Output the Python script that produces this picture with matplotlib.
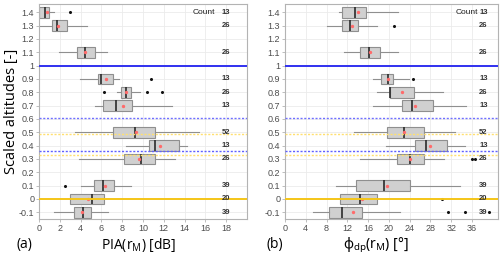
import numpy as np
import matplotlib
matplotlib.use("Agg")
import matplotlib.pyplot as plt

plt.rcParams["font.family"] = ["Liberation Sans", "DejaVu Sans"]
plt.rcParams["mathtext.fontset"] = "custom"
plt.rcParams["mathtext.rm"] = "Noto Sans"
plt.rcParams["mathtext.it"] = "Noto Sans"
plt.rcParams["mathtext.default"] = "regular"

# Scaled altitude rows and sample counts
altitudes = [1.4, 1.3, 1.1, 0.9, 0.8, 0.7, 0.5, 0.4, 0.3, 0.1, 0.0, -0.1]
counts = [13, 26, 26, 13, 26, 13, 52, 13, 26, 39, 20, 39]

# Panel (a): PIA(rM) [dB]
pia_whislo = [0.0, 0.0, 1.9, 3.9, 7.5, 5.4, 3.5, 8.35, 3.8, 4.05, 3.0, 1.48]
pia_q1 = [0.0, 1.28, 3.63, 5.65, 7.9, 6.2, 7.15, 10.55, 8.2, 5.3, 3.0, 3.4]
pia_med = [0.58, 1.7, 4.43, 6.0, 8.35, 7.4, 9.25, 11.2, 9.8, 6.2, 5.05, 4.27]
pia_q3 = [1.0, 2.73, 5.42, 7.15, 8.8, 8.95, 11.2, 13.45, 11.15, 7.25, 6.25, 5.0]
pia_whishi = [1.48, 4.6, 6.5, 7.7, 9.7, 12.8, 15.4, 14.2, 13.1, 8.8, 6.25, 6.67]
pia_mean = [0.74, 1.8, 4.43, 6.45, 8.4, 8.05, 9.3, 11.65, 9.6, 6.35, 4.75, 4.1]
pia_fliers = [[3.0], [], [], [10.8], [6.25, 10.4, 11.8], [], [], [], [], [2.5], [], []]

# Panel (b): phi_dp(rM) [deg]
phi_whislo = [10.3, 8.0, 11.3, 17.0, 17.8, 17.0, 13.3, 19.4, 14.4, 9.9, 10.6, 5.4]
phi_q1 = [11.0, 11.0, 14.4, 18.5, 20.2, 22.6, 19.6, 25.1, 21.5, 13.7, 10.6, 8.5]
phi_med = [13.5, 12.6, 16.2, 19.8, 20.3, 24.4, 22.9, 27.1, 24.1, 19.0, 14.4, 11.0]
phi_q3 = [15.5, 14.0, 18.3, 20.7, 24.9, 28.4, 26.7, 31.1, 26.8, 24.1, 17.8, 14.9]
phi_whishi = [21.7, 17.7, 21.7, 23.9, 30.4, 34.8, 32.7, 34.6, 30.6, 33.7, 17.8, 22.1]
phi_mean = [14.1, 12.9, 16.3, 19.9, 22.6, 25.1, 22.9, 27.9, 24.1, 19.7, 14.9, 13.1]
phi_fliers = [[], [21.0], [], [24.7], [], [], [], [], [35.9, 36.5], [], [30.3], [31.4, 34.7, 39.3]]

yticks = [1.4, 1.3, 1.2, 1.1, 1.0, 0.9, 0.8, 0.7, 0.6, 0.5, 0.4, 0.3, 0.2, 0.1, 0.0, -0.1]
yticklabels = ["1.4", "1.3", "1.2", "1.1", "1", "0.9", "0.8", "0.7", "0.6", "0.5",
               "0.4", "0.3", "0.2", "0.1", "0", "-0.1"]


def panel(ax, whislo, q1, med, q3, whishi, mean, fliers, xlim, xticks, xcount, xword):
    stats = []
    for i in range(len(altitudes)):
        stats.append(dict(whislo=whislo[i], q1=q1[i], med=med[i], q3=q3[i],
                          whishi=whishi[i], mean=mean[i], fliers=fliers[i]))
    ax.bxp(stats, positions=altitudes, widths=0.08, vert=False, patch_artist=True,
           showmeans=True, showcaps=False,
           boxprops=dict(facecolor="#d0d0d0", edgecolor="#8f8f8f", linewidth=0.8),
           whiskerprops=dict(color="#8f8f8f", linewidth=0.8),
           medianprops=dict(color="#2b2b2b", linewidth=1.2),
           meanprops=dict(marker="o", markersize=1.4, markerfacecolor="#ff6b6b",
                          markeredgecolor="#ff6b6b"),
           flierprops=dict(marker="o", markersize=1.2, markerfacecolor="#111111",
                           markeredgecolor="#111111"))
    # reference altitude lines
    ax.axhline(1.0, color="#3030f0", lw=1.4, zorder=5)
    ax.axhline(0.0, color="#f5c518", lw=1.4, zorder=5)
    ax.axhline(0.605, color="#7070ff", lw=1.0, ls=(0, (1.5, 1.2)), zorder=5)
    ax.axhline(0.357, color="#6060ff", lw=1.0, ls=(0, (1.5, 1.2)), zorder=5)
    ax.axhline(0.485, color="#ffe070", lw=1.0, ls=(0, (1.5, 1.2)), zorder=5)
    ax.axhline(0.328, color="#ffe070", lw=1.0, ls=(0, (1.5, 1.2)), zorder=5)
    for a, c in zip(altitudes, counts):
        ax.text(xcount, a, str(c), fontsize=5.5, fontweight="bold", color="#333333",
                ha="center", va="center", zorder=6)
    ax.text(xword, 1.4, "Count", fontsize=6, color="#222222", ha="center", va="center")
    ax.set_xlim(*xlim)
    ax.set_ylim(-0.15, 1.462)
    ax.set_xticks(xticks)
    ax.set_yticks(yticks)
    ax.set_yticklabels(yticklabels)
    ax.grid(True, color="#ebebeb", lw=0.6)
    ax.set_axisbelow(True)
    for s in ax.spines.values():
        s.set_color("#b3b3b3")
        s.set_linewidth(0.8)
    ax.tick_params(colors="#b3b3b3", labelcolor="#4d4d4d", labelsize=6.5,
                   length=2, width=0.6, pad=1.5)


fig = plt.figure(figsize=(5, 2.56), dpi=100)
ax1 = fig.add_axes([0.078, 0.1445, 0.416, 0.84])
ax2 = fig.add_axes([0.570, 0.1445, 0.426, 0.84])

panel(ax1, pia_whislo, pia_q1, pia_med, pia_q3, pia_whishi, pia_mean, pia_fliers,
      (0, 20), np.arange(0, 19, 2), 18.0, 15.9)
panel(ax2, phi_whislo, phi_q1, phi_med, phi_q3, phi_whishi, phi_mean, phi_fliers,
      (0, 41), np.arange(0, 37, 4), 38.2, 35.0)

fig.text(0.024, 0.565, "Scaled altitudes [-]", rotation=90, fontsize=10.5,
         family="Open Sans", ha="center", va="center")
fig.text(0.278, 0.043, "PIA($r_M$) [dB]", fontsize=10, family="Open Sans",
         ha="center", va="center")
fig.text(0.048, 0.043, "(a)", fontsize=10, family="Open Sans", ha="center", va="center")
fig.text(0.752, 0.043, "$ϕ_{dp}(r_M)$ [°]", fontsize=10, family=["Noto Sans", "DejaVu Sans"],
         ha="center", va="center")
fig.text(0.55, 0.043, "(b)", fontsize=10, family="Open Sans", ha="center", va="center")

fig.savefig("out.png", dpi=100)
